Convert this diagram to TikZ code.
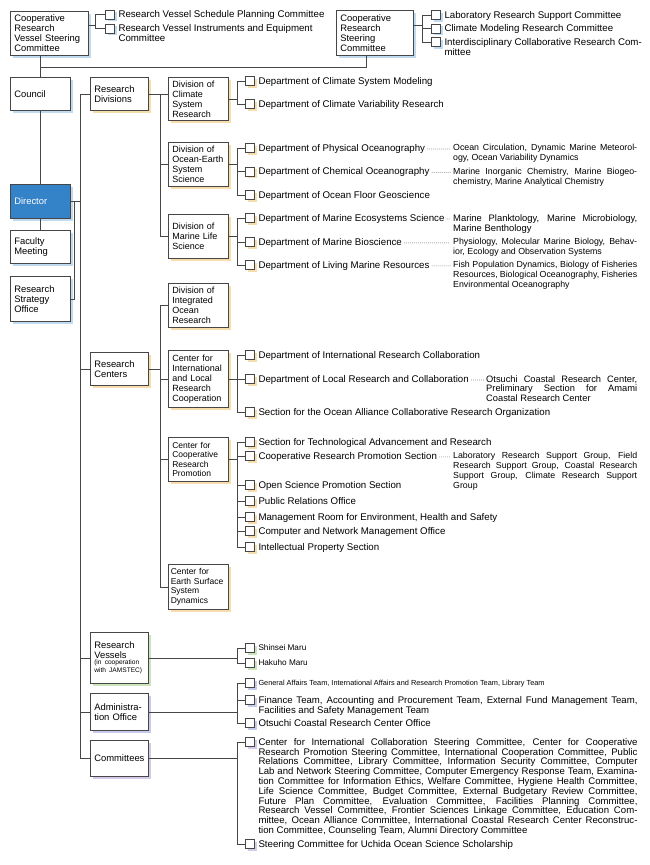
\documentclass[tikz,border=0pt]{standalone}
\usepackage{fontspec}
\setmainfont{Liberation Sans}
\usetikzlibrary{positioning, calc, shadows}
\definecolor{linecol}{RGB}{70, 70, 70}
\definecolor{dirfill}{RGB}{52, 131, 201}
\definecolor{shblue}{RGB}{192, 219, 240}
\definecolor{shorange}{RGB}{248, 221, 172}
\definecolor{shgreen}{RGB}{204, 228, 188}
\definecolor{shviolet}{RGB}{198, 202, 238}
\definecolor{shpurple}{RGB}{214, 202, 234}

\begin{document}
\begin{tikzpicture}[
    x=1pt, y=-1pt,
    font=\fontsize{9.7}{10}\selectfont,
    treeline/.style={draw=linecol, line width=0.6pt},
    leader/.style={draw=linecol, line width=0.8pt, line cap=round,
                   dash pattern=on 0pt off 2pt},
    unitbox/.style={rectangle, draw=linecol, fill=white, line width=0.6pt,
                    anchor=north west, text width=52pt, inner xsep=4pt,
                    inner ysep=2pt, align=left,
                    font=\fontsize{9.4}{10}\selectfont,
                    drop shadow={shadow xshift=2.5pt, shadow yshift=-2.5pt,
                                 opacity=1, fill=#1}},
    unitbox/.default=shblue,
    divbox/.style={unitbox=shorange, font=\fontsize{9}{10}\selectfont},
    sq/.style={rectangle, draw=linecol, fill=white, line width=0.6pt,
               minimum size=9pt, inner sep=0pt,
               drop shadow={shadow xshift=2pt, shadow yshift=-2pt,
                            opacity=1, fill=#1}},
    sq/.default=shorange,
    itemtext/.style={anchor=north west, inner sep=0pt, align=left},
    remark/.style={anchor=north west, inner sep=0pt, text width=184pt,
                   align=justify, font=\fontsize{8.8}{10}\selectfont\sloppy},
]

\fill[white] (0,0) rectangle (650,865);
\useasboundingbox (0,0) rectangle (650,865);

\coordinate (trunk) at (80,0);
\coordinate (jLow) at (237,0);
\coordinate (remX) at (453,0);
\coordinate (remXb) at (486,0);

% ============================================================
% STEERING COMMITTEES (top)
% ============================================================
\node[unitbox, text width=70pt, minimum height=44pt] (crvsc) at (10,11)
    {Cooperative\\Research\\Vessel Steering\\Committee};
\node[sq=shblue] (sqSched) at (110,14.5) {};
\node[sq=shblue] (sqInstr) at (110,28.5) {};
\node[itemtext] (tSched) at ([xshift=3.5pt,yshift=-1pt]sqSched.north east)
    {Research Vessel Schedule Planning Committee};
\node[itemtext] (tInstr) at ([xshift=3.5pt,yshift=-1pt]sqInstr.north east)
    {Research Vessel Instruments and Equipment\\Committee};

\node[unitbox, text width=69pt, minimum height=45pt] (crsc) at (336,10)
    {Cooperative\\Research\\Steering\\Committee};
\node[sq=shblue] (sqLab) at (436,15) {};
\node[sq=shblue] (sqCMod) at (436,28.5) {};
\node[sq=shblue] (sqInter) at (436,42) {};
\node[itemtext] (tLab) at ([xshift=3.5pt,yshift=-1pt]sqLab.north east)
    {Laboratory Research Support Committee};
\node[itemtext] (tCMod) at ([xshift=3.5pt,yshift=-1pt]sqCMod.north east)
    {Climate Modeling Research Committee};
\node[itemtext] (tInter) at ([xshift=3.5pt,yshift=-1pt]sqInter.north east)
    {Interdisciplinary Collaborative Research Com-\\mittee};

% ============================================================
% LEFT COLUMN
% ============================================================
\node[unitbox, minimum height=33pt] (council) at (10,77) {Council};
\node[unitbox, fill=dirfill, text=white, minimum height=34pt] (director) at (10,184) {Director};
\node[unitbox, minimum height=33pt] (faculty) at (10,230) {Faculty\\Meeting};
\node[unitbox, minimum height=45pt] (rso) at (10,276) {Research\\Strategy\\Office};

% ============================================================
% SECOND COLUMN
% ============================================================
\node[unitbox=shorange, text width=50pt, minimum height=33pt] (rdiv) at (90,77)
    {Research\\Divisions};
\node[unitbox=shorange, text width=50pt, minimum height=33pt] (rcen) at (90,352)
    {Research\\Centers};
\node[unitbox=shgreen, text width=50pt, minimum height=51pt] (rves) at (90,632)
    {Research\\Vessels\\[-1.5pt]{\fontsize{6.6}{7.5}\selectfont (in cooperation\\[-2pt]with JAMSTEC)}};
\node[unitbox=shviolet, text width=50pt, minimum height=37pt] (adm) at (90,693)
    {Administra-\\tion Office};
\node[unitbox=shpurple, text width=50pt, minimum height=36pt] (comm) at (90,740)
    {Committees};

% ============================================================
% DIVISIONS AND CENTERS
% ============================================================
\node[divbox, minimum height=43pt] (divClim) at (168,77)
    {Division of\\Climate\\System\\Research};
\node[divbox, minimum height=44pt] (divOE) at (168,142)
    {Division of\\Ocean-Earth\\System\\Science};
\node[divbox, minimum height=44pt] (divML) at (168,214)
    {Division of\\Marine Life\\Science};
\node[divbox, minimum height=44pt] (divIO) at (168,283)
    {Division of\\Integrated\\Ocean\\Research};
\node[divbox, minimum height=57pt] (cILRC) at (168,350)
    {Center for\\International\\and Local\\Research\\Cooperation};
\node[divbox, minimum height=44pt, font=\fontsize{8.5}{9.5}\selectfont] (cCRP) at (168,437)
    {Center for\\Cooperative\\Research\\Promotion};
\node[divbox, minimum height=45pt, text width=55pt, inner xsep=2.5pt,
      font=\fontsize{8.5}{9.5}\selectfont] (cESSD) at (168,564)
    {Center for\\Earth Surface\\System\\Dynamics};

% departments
\node[sq] (sqCSM) at (250,81) {};
\node[sq] (sqCVR) at (250,104) {};
\node[sq] (sqPhys) at (250,148) {};
\node[sq] (sqChem) at (250,171.5) {};
\node[sq] (sqFloor) at (250,195) {};
\node[sq] (sqEco) at (250,218) {};
\node[sq] (sqBio) at (250,242) {};
\node[sq] (sqLMR) at (250,265) {};
\node[sq] (sqIRC) at (250,355) {};
\node[sq] (sqLocal) at (250,379) {};
\node[sq] (sqAlli) at (250,412) {};
\node[sq] (sqTech) at (250,442) {};
\node[sq] (sqCRPS) at (250,456) {};
\node[sq] (sqOpen) at (250,485) {};
\node[sq] (sqPR) at (250,501) {};
\node[sq] (sqEHS) at (250,517) {};
\node[sq] (sqNet) at (250,531) {};
\node[sq] (sqIP) at (250,547) {};

\node[itemtext] (tCSM) at ([xshift=3.5pt,yshift=-1pt]sqCSM.north east) {Department of Climate System Modeling};
\node[itemtext] (tCVR) at ([xshift=3.5pt,yshift=-1pt]sqCVR.north east) {Department of Climate Variability Research};
\node[itemtext] (tPhys) at ([xshift=3.5pt,yshift=-1pt]sqPhys.north east) {Department of Physical Oceanography};
\node[itemtext] (tChem) at ([xshift=3.5pt,yshift=-1pt]sqChem.north east) {Department of Chemical Oceanography};
\node[itemtext] (tFloor) at ([xshift=3.5pt,yshift=-1pt]sqFloor.north east) {Department of Ocean Floor Geoscience};
\node[itemtext] (tEco) at ([xshift=3.5pt,yshift=-1pt]sqEco.north east) {Department of Marine Ecosystems Science};
\node[itemtext] (tBio) at ([xshift=3.5pt,yshift=-1pt]sqBio.north east) {Department of Marine Bioscience};
\node[itemtext] (tLMR) at ([xshift=3.5pt,yshift=-1pt]sqLMR.north east) {Department of Living Marine Resources};
\node[itemtext] (tIRC) at ([xshift=3.5pt,yshift=-1pt]sqIRC.north east) {Department of International Research Collaboration};
\node[itemtext] (tLocal) at ([xshift=3.5pt,yshift=-1pt]sqLocal.north east) {Department of Local Research and Collaboration};
\node[itemtext] (tAlli) at ([xshift=3.5pt,yshift=-1pt]sqAlli.north east) {Section for the Ocean Alliance Collaborative Research Organization};
\node[itemtext] (tTech) at ([xshift=3.5pt,yshift=-1pt]sqTech.north east) {Section for Technological Advancement and Research};
\node[itemtext] (tCRPS) at ([xshift=3.5pt,yshift=-1pt]sqCRPS.north east) {Cooperative Research Promotion Section};
\node[itemtext] (tOpen) at ([xshift=3.5pt,yshift=-1pt]sqOpen.north east) {Open Science Promotion Section};
\node[itemtext] (tPR) at ([xshift=3.5pt,yshift=-1pt]sqPR.north east) {Public Relations Office};
\node[itemtext] (tEHS) at ([xshift=3.5pt,yshift=-1pt]sqEHS.north east) {Management Room for Environment, Health and Safety};
\node[itemtext] (tNet) at ([xshift=3.5pt,yshift=-1pt]sqNet.north east) {Computer and Network Management Office};
\node[itemtext] (tIP) at ([xshift=3.5pt,yshift=-1pt]sqIP.north east) {Intellectual Property Section};

% research fields (right column)
\node[remark] (rPhys) at (tPhys.north -| remX)
    {Ocean Circulation, Dynamic Marine Meteorol-\linebreak ogy, Ocean Variability Dynamics};
\node[remark] (rChem) at (tChem.north -| remX)
    {Marine Inorganic Chemistry, Marine Biogeo-\linebreak chemistry, Marine Analytical Chemistry};
\node[remark, font=\fontsize{9.4}{10}\selectfont\sloppy] (rEco) at (tEco.north -| remX)
    {Marine Planktology, Marine Microbiology,\linebreak Marine Benthology};
\node[remark] (rBio) at (tBio.north -| remX)
    {Physiology, Molecular Marine Biology, Behav-\linebreak ior, Ecology and Observation Systems};
\node[remark] (rLMR) at (tLMR.north -| remX)
    {Fish Population Dynamics, Biology of Fisheries\linebreak Resources, Biological Oceanography, Fisheries\linebreak Environmental Oceanography};
\node[remark, text width=151pt, font=\fontsize{9.3}{9.6}\selectfont\sloppy] (rLocal) at (tLocal.north -| remXb)
    {Otsuchi Coastal Research Center,\linebreak Preliminary Section for Amami\linebreak Coastal Research Center};
\node[remark] (rCRPS) at (tCRPS.north -| remX)
    {Laboratory Research Support Group, Field\linebreak Research Support Group, Coastal Research\linebreak Support Group, Climate Research Support\linebreak Group};

% ============================================================
% VESSELS, ADMINISTRATION, COMMITTEES
% ============================================================
\node[sq=shgreen] (sqShin) at (250,648) {};
\node[sq=shgreen] (sqHaku) at (250,663) {};
\node[sq=shviolet] (sqGen) at (250,683) {};
\node[sq=shviolet] (sqFin) at (250,700) {};
\node[sq=shviolet] (sqOts) at (250,723) {};
\node[sq=shpurple] (sqComm) at (250,742) {};
\node[sq=shpurple] (sqUchi) at (250,844) {};

\node[itemtext, font=\fontsize{8.2}{9}\selectfont] (tShin) at ([xshift=3.5pt,yshift=-1.5pt]sqShin.north east) {Shinsei Maru};
\node[itemtext, font=\fontsize{8.2}{9}\selectfont] (tHaku) at ([xshift=3.5pt,yshift=-1.5pt]sqHaku.north east) {Hakuho Maru};
\node[itemtext, font=\fontsize{7.35}{9}\selectfont] (tGen) at ([xshift=3.5pt,yshift=-1.5pt]sqGen.north east)
    {General Affairs Team, International Affairs and Research Promotion Team, Library Team};
\node[itemtext, text width=379pt, align=justify, font=\fontsize{9.6}{10}\selectfont\sloppy] (tFin)
    at ([xshift=3.5pt,yshift=-1pt]sqFin.north east)
    {Finance Team, Accounting and Procurement Team, External Fund Management Team,\linebreak Facilities and Safety Management Team};
\node[itemtext] (tOts) at ([xshift=3.5pt,yshift=-1pt]sqOts.north east) {Otsuchi Coastal Research Center Office};
\node[itemtext, text width=379pt, align=justify, font=\fontsize{9.6}{9.8}\selectfont\sloppy] (tComm)
    at ([xshift=3.5pt,yshift=-1pt]sqComm.north east)
    {Center for International Collaboration Steering Committee, Center for Cooperative\linebreak
     Research Promotion Steering Committee, International Cooperation Committee, Public\linebreak
     Relations Committee, Library Committee, Information Security Committee, Computer\linebreak
     Lab and Network Steering Committee, Computer Emergency Response Team, Examina-\linebreak
     tion Committee for Information Ethics, Welfare Committee, Hygiene Health Committee,\linebreak
     Life Science Committee, Budget Committee, External Budgetary Review Committee,\linebreak
     Future Plan Committee, Evaluation Committee, Facilities Planning Committee,\linebreak
     Research Vessel Committee, Frontier Sciences Linkage Committee, Education Com-\linebreak
     mittee, Ocean Alliance Committee, International Coastal Research Center Reconstruc-\linebreak
     tion Committee, Counseling Team, Alumni Directory Committee};
\node[itemtext] (tUchi) at ([xshift=3.5pt,yshift=-1pt]sqUchi.north east) {Steering Committee for Uchida Ocean Science Scholarship};

% ============================================================
% CONNECTORS
% ============================================================
% top
\foreach \c in {sqSched, sqInstr}
    \draw[treeline] ([yshift=8pt]crvsc.east) -- ++(7,0) |- (\c.west);
\foreach \c in {sqLab, sqCMod, sqInter}
    \draw[treeline] ([yshift=8pt]crsc.east) -- ++(9,0) |- (\c.west);
\draw[treeline] (council.north) -- (council.north |- crvsc.south);
\draw[treeline] (council.north |- 0,67) -| ([xshift=-9pt]crsc.south);

% left column
\draw[treeline] (council.south) -- (director.north);
\draw[treeline] (director.south) -- (faculty.north);
\draw[treeline] (director.east) -- (director.east -| trunk);
\draw[treeline] (rso.east) -- ++(4,0) |- (director.east);

% main trunk
\draw[treeline] (rdiv.west) -- (rdiv.west -| trunk) |- (comm.west);
\foreach \c in {rcen, rves, adm}
    \draw[treeline] (\c.west) -- (\c.west -| trunk);

% divisions and centers
\draw[treeline] (rdiv.east) -- (divClim.west |- rdiv.east);
\foreach \c in {divOE, divML}
    \draw[treeline] (rdiv.east) -- ++(12,0) |- (\c.west);
\foreach \c in {divIO, cILRC, cCRP, cESSD}
    \draw[treeline] (rcen.east) -- ++(12,0) |- (\c.west);

% departments and sections
\foreach \c in {sqCSM, sqCVR}
    \draw[treeline] (divClim.east) -- ++(9,0) |- (\c.west);
\foreach \c in {sqPhys, sqChem, sqFloor}
    \draw[treeline] (divOE.east) -- ++(9,0) |- (\c.west);
\foreach \c in {sqEco, sqBio, sqLMR}
    \draw[treeline] (divML.east) -- ++(9,0) |- (\c.west);
\foreach \c in {sqIRC, sqLocal, sqAlli}
    \draw[treeline] (cILRC.east) -- ++(9,0) |- (\c.west);
\foreach \c in {sqTech, sqCRPS, sqOpen, sqPR, sqEHS, sqNet, sqIP}
    \draw[treeline] (cCRP.east) -- ++(9,0) |- (\c.west);

% lower groups
\foreach \c in {sqShin, sqHaku}
    \draw[treeline] (rves.east) -- (rves.east -| jLow) |- (\c.west);
\foreach \c in {sqGen, sqFin, sqOts}
    \draw[treeline] (adm.east) -- (adm.east -| jLow) |- (\c.west);
\foreach \c in {sqComm, sqUchi}
    \draw[treeline] (comm.east) -- (comm.east -| jLow) |- (\c.west);

% dotted leaders
\foreach \t/\r in {tPhys/rPhys, tChem/rChem, tEco/rEco, tBio/rBio, tLMR/rLMR, tLocal/rLocal, tCRPS/rCRPS}
    \draw[leader] ([xshift=2.5pt]\t.east) -- ([xshift=-2.5pt]\t.east -| \r.west);

\end{tikzpicture}
\end{document}
